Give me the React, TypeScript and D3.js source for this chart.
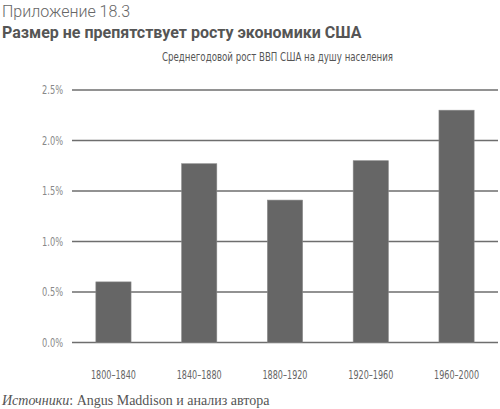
import { useEffect, useRef } from 'react';
import * as d3 from 'd3';

const periods = ['1800–1840', '1840–1880', '1880–1920', '1920–1960', '1960–2000'];
const growth = [0.6, 1.77, 1.41, 1.8, 2.3];
const yTicks = [0, 0.5, 1.0, 1.5, 2.0, 2.5];

const width = 500;
const height = 409;
const narrow = '"DejaVu Sans Condensed", "Liberation Sans Narrow", sans-serif';

export default function App() {
  const svgRef = useRef<SVGSVGElement>(null);

  useEffect(() => {
    if (!svgRef.current) return;
    const svg = d3.select(svgRef.current);
    svg.selectAll('*').remove();

    const x = d3.scaleBand<string>()
      .domain(periods)
      .range([71, 499])
      .paddingInner(0.59)
      .paddingOuter(0.29);

    const y = d3.scaleLinear()
      .domain([0, 2.5])
      .range([342.5, 90]);

    // headings
    svg.append('text')
      .attr('x', 2).attr('y', 17)
      .style('font-family', 'Roboto, sans-serif')
      .style('font-weight', 300)
      .style('font-size', '16px')
      .style('fill', '#666')
      .text('Приложение 18.3');

    svg.append('text')
      .attr('x', 2).attr('y', 38)
      .style('font-family', 'Roboto, sans-serif')
      .style('font-weight', 700)
      .style('font-size', '16px')
      .style('fill', '#555')
      .text('Размер не препятствует росту экономики США');

    // condensed look: squeeze text to the measured width
    svg.append('text')
      .attr('x', 162).attr('y', 61)
      .attr('textLength', 231)
      .attr('lengthAdjust', 'spacingAndGlyphs')
      .style('font-family', narrow)
      .style('font-size', '11.5px')
      .style('fill', '#555')
      .text('Среднегодовой рост ВВП США на душу населения');

    // gridlines
    const grid = svg.append('g');
    grid.selectAll('line')
      .data(yTicks)
      .enter().append('line')
      .attr('x1', 72).attr('x2', 498)
      .attr('y1', d => y(d)).attr('y2', d => y(d))
      .attr('stroke', '#6e6e6e')
      .attr('stroke-width', 1.6);

    grid.selectAll('text')
      .data(yTicks)
      .enter().append('text')
      .attr('x', 42)
      .attr('y', d => y(d))
      .attr('dy', '0.35em')
      .attr('textLength', 21)
      .attr('lengthAdjust', 'spacingAndGlyphs')
      .style('font-family', narrow)
      .style('font-size', '11.5px')
      .style('fill', '#888')
      .text(d => d3.format('.1f')(d) + '%');

    // bars
    svg.append('g').selectAll('rect')
      .data(growth)
      .enter().append('rect')
      .attr('x', (d, i) => x(periods[i]) || 0)
      .attr('width', x.bandwidth())
      .attr('y', d => y(d))
      .attr('height', d => y(0) - y(d))
      .attr('fill', '#666')
      .attr('stroke', '#888')
      .attr('stroke-width', 0.6);

    // x labels
    svg.append('g').selectAll('text')
      .data(periods)
      .enter().append('text')
      .attr('x', d => (x(d) || 0) + x.bandwidth() / 2 - 22.5)
      .attr('y', 379)
      .attr('textLength', 45)
      .attr('lengthAdjust', 'spacingAndGlyphs')
      .style('font-family', narrow)
      .style('font-size', '11.5px')
      .style('fill', '#666')
      .text(d => d);

    // source
    const src = svg.append('text')
      .attr('x', 2).attr('y', 405)
      .style('font-family', '"Liberation Serif", serif')
      .style('font-size', '14px')
      .style('fill', '#555');
    src.append('tspan').style('font-style', 'italic').text('Источники');
    src.append('tspan').text(': Angus Maddison и анализ автора');
  }, []);

  return (
    <div style={{ position: 'absolute', left: 0, top: 0 }}>
      <svg ref={svgRef} width={width} height={height} style={{ display: 'block', background: '#fff' }} />
    </div>
  );
}
